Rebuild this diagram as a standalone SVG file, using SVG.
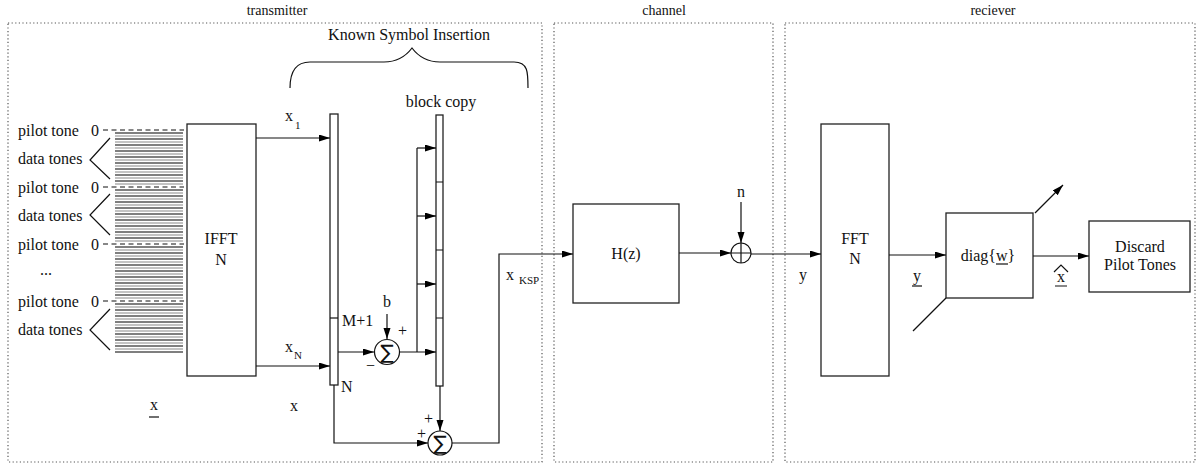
<svg xmlns="http://www.w3.org/2000/svg" width="1198" height="465" viewBox="0 0 1198 465">
<defs>
<marker id="ah" markerUnits="userSpaceOnUse" markerWidth="12" markerHeight="8" refX="11" refY="3.5" orient="auto">
<path d="M0,0 L11,3.5 L0,7 z" fill="#000"/>
</marker>
<style>
.t{font-family:"Liberation Serif","Times New Roman",serif;font-size:16px;fill:#111}
.s{font-size:11px}
.h{font-size:14px}
.frame{fill:none;stroke:#555;stroke-width:1.2;stroke-dasharray:1.2,2.4}
.box{fill:#fff;stroke:#222;stroke-width:1.3}
.ln{fill:none;stroke:#111;stroke-width:1.2}
.ar{fill:none;stroke:#111;stroke-width:1.2;marker-end:url(#ah)}
.pd{stroke:#111;stroke-width:1.1;stroke-dasharray:5,3.5}
.sig{font-family:"DejaVu Sans","Liberation Sans",sans-serif;font-size:20px;fill:#111}
</style>
</defs>
<rect width="1198" height="465" fill="#fff"/>

<g id="frames">
<rect class="frame" x="8" y="23" width="534" height="439"/>
<rect class="frame" x="554" y="23" width="219" height="439"/>
<rect class="frame" x="785" y="23" width="410" height="439"/>
<text class="t h" x="277" y="15" text-anchor="middle">transmitter</text>
<text class="t h" x="664" y="15" text-anchor="middle">channel</text>
<text class="t h" x="993" y="15" text-anchor="middle">reciever</text>
</g>

<g id="tones">
<g class="t">
<text x="18" y="136">pilot tone</text>
<text x="18" y="164">data tones</text>
<text x="18" y="193">pilot tone</text>
<text x="18" y="221">data tones</text>
<text x="18" y="250">pilot tone</text>
<text x="40" y="275">...</text>
<text x="18" y="307">pilot tone</text>
<text x="18" y="335">data tones</text>
<text x="91" y="136">0</text>
<text x="91" y="193">0</text>
<text x="91" y="250">0</text>
<text x="91" y="307">0</text>
</g>
<path class="ln" d="M110,138 L90,160 L110,179 M110,194 L90,215 L110,235 M110,309 L90,330 L110,350"/>
<path class="pd" d="M103,130 H184 M103,187 H184 M103,244 H184 M103,301 H184"/>
<path fill="none" stroke="#000" stroke-width="1.1" d="M115,133H183M115,139H183M115,145H183M115,151H183M115,157H183M115,163H183M115,169H183M115,175H183M115,181H183
M115,190H183M115,196H183M115,202H183M115,208H183M115,214H183M115,220H183M115,226H183M115,232H183M115,238H183
M115,247H183M115,253H183M115,259H183M115,265H183M115,271H183M115,277H183M115,283H183M115,289H183M115,295H183
M115,304H183M115,310H183M115,316H183M115,322H183M115,328H183M115,334H183M115,340H183M115,346H183M115,352H183"/>
<path fill="none" stroke="#888" stroke-width="1.1" d="M115,136H183M115,142H183M115,148H183M115,154H183M115,160H183M115,166H183M115,172H183M115,178H183M115,184H183
M115,193H183M115,199H183M115,205H183M115,211H183M115,217H183M115,223H183M115,229H183M115,235H183M115,241H183
M115,250H183M115,256H183M115,262H183M115,268H183M115,274H183M115,280H183M115,286H183M115,292H183M115,298H183
M115,307H183M115,313H183M115,319H183M115,325H183M115,331H183M115,337H183M115,343H183M115,349H183"/>
<text class="t" x="150" y="410">x</text>
<path class="ln" d="M149,417 H159"/>
</g>

<g id="ifft">
<rect class="box" x="187" y="124" width="69" height="252"/>
<text class="t" x="221" y="244" text-anchor="middle">IFFT</text>
<text class="t" x="221" y="265" text-anchor="middle">N</text>
</g>

<g id="col1">
<rect class="box" x="330" y="114" width="8" height="271"/>
<path class="ln" d="M330,318 H338"/>
<text class="t" x="342" y="326">M+1</text>
<text class="t" x="341" y="392">N</text>
<text class="t" x="290" y="411">x</text>
</g>

<g id="col2">
<rect class="box" x="436" y="115" width="7" height="271"/>
<path class="ln" d="M436,182 H443 M436,250 H443 M436,318 H443"/>
<text class="t" x="441" y="107" text-anchor="middle">block copy</text>
</g>

<g id="ksi">
<text class="t" x="409" y="40" font-size="15" text-anchor="middle">Known Symbol Insertion</text>
<path class="ln" d="M290,88 C290,72 296,62 310,62 H384 C398,62 406,56 412,48 C418,56 426,62 440,62 H514 C528,62 528,72 528,88"/>
</g>

<g id="sum1">
<circle cx="387" cy="352" r="12.5" fill="#fff" stroke="#111" stroke-width="1.2"/>
<text class="sig" x="387" y="359" text-anchor="middle">∑</text>
<text class="t" x="387" y="307" text-anchor="middle">b</text>
<text class="t" x="398" y="336" font-size="14">+</text>
<text class="t" x="366" y="371" font-size="14">−</text>
</g>

<g id="sum2">
<circle cx="440" cy="443" r="12" fill="#fff" stroke="#111" stroke-width="1.2"/>
<text class="sig" x="440" y="450" text-anchor="middle">∑</text>
<text class="t" x="424" y="424" font-size="14">+</text>
<text class="t" x="417" y="439" font-size="14">+</text>
</g>

<g id="hz">
<rect class="box" x="573" y="204" width="106" height="99"/>
<text class="t" x="626" y="259" text-anchor="middle">H(z)</text>
<text class="t" x="506" y="280">x</text>
<text class="t s" x="519" y="284">KSP</text>
</g>

<g id="plus">
<circle cx="741" cy="253" r="10" fill="#fff" stroke="#111" stroke-width="1.2"/>
<path class="ln" d="M731,253 H751 M741,243 V263"/>
<text class="t" x="741" y="197" text-anchor="middle">n</text>
</g>

<g id="fft">
<rect class="box" x="821" y="124" width="68" height="252"/>
<text class="t" x="855" y="244" text-anchor="middle">FFT</text>
<text class="t" x="855" y="264" text-anchor="middle">N</text>
<text class="t" x="799" y="280">y</text>
</g>

<g id="diag">
<rect class="box" x="946" y="213" width="87" height="85"/>
<text class="t" x="988" y="261" text-anchor="middle">diag{w}</text>
<path class="ln" d="M996,264 H1008"/>
<text class="t" x="913" y="281">y</text>
<path class="ln" d="M912,286 H922"/>
<text class="t" x="1057" y="282">x</text>
<path class="ln" d="M1055,286 H1067 M1054,272 L1061,265 L1068,272"/>
</g>

<g id="discard">
<rect class="box" x="1089" y="221" width="101" height="71"/>
<text class="t" x="1140" y="252" text-anchor="middle">Discard</text>
<text class="t" x="1140" y="270" text-anchor="middle">Pilot Tones</text>
</g>

<g id="connectors">
<path class="ar" d="M256,138 H330"/>
<text class="t" x="285" y="121">x</text>
<text class="t s" x="295" y="129">1</text>
<path class="ar" d="M256,366 H330"/>
<text class="t" x="285" y="352">x</text>
<text class="t s" x="294" y="359">N</text>
<path class="ar" d="M338,352 H374"/>
<path class="ar" d="M387,314 V339"/>
<path class="ar" d="M399,352 H436"/>
<path class="ln" d="M417,352 V148"/>
<path class="ar" d="M417,148 H436"/>
<path class="ar" d="M417,216 H436"/>
<path class="ar" d="M417,284 H436"/>
<path class="ar" d="M440,386 V431"/>
<path class="ar" d="M334,385 V443 H428"/>
<path class="ar" d="M452,443 H499 V254 H573"/>
<path class="ar" d="M679,253 H731"/>
<path class="ar" d="M741,202 V243"/>
<path class="ar" d="M751,254 H821"/>
<path class="ar" d="M889,255 H946"/>
<path class="ar" d="M1033,256 H1089"/>
<path class="ar" d="M1035,213 L1063,185"/>
<path class="ln" d="M913,331 L946,298"/>
</g>
</svg>
